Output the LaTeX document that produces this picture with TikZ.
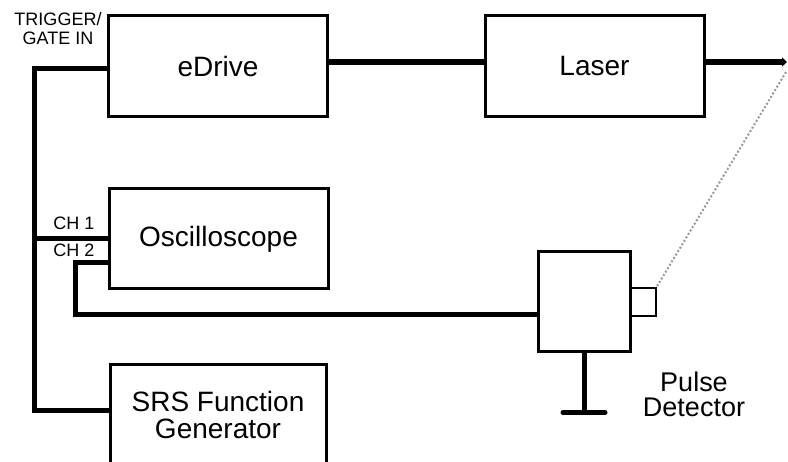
\documentclass[tikz,border=0pt]{standalone}
\usepackage{fontspec}
\setmainfont{Liberation Sans}
\usetikzlibrary{arrows.meta}
\begin{document}
\begin{tikzpicture}[x=1pt,y=-1pt,
  box/.style={draw=black,line width=3pt,rectangle,inner sep=0pt,outer sep=0pt,
    font=\fontsize{28}{27}\selectfont,align=center},
  wire/.style={line width=5pt,black},
  beamwire/.style={line width=6.5pt,black},
  lbl/.style={inner sep=0pt,font=\fontsize{18}{19}\selectfont,align=center}]
\useasboundingbox (0,0) rectangle (788,462);
\clip (0,0) rectangle (788,462);
% boxes
\node[box,minimum width=219pt,minimum height=101pt] (edrive) at (218,66.5) {eDrive};
\node[box,minimum width=219pt,minimum height=101pt] (laser) at (594.5,66.5) {Laser};
\node[box,minimum width=219pt,minimum height=100pt] (osc) at (218.5,239) {Oscilloscope};
\node[box,minimum width=216pt,minimum height=100pt] (srs) at (218,414.5) {SRS Function\\Generator};
\node[box,minimum width=92pt,minimum height=100pt] (pd) at (584,302) {};
\node[box,line width=2.5pt,minimum width=26pt,minimum height=28pt,anchor=west] (win) at (pd.east) {};
% labels
\node[lbl,anchor=base] (trig) at (58,45) {TRIGGER/\\GATE IN};
\node[lbl,anchor=base] (ch1) at (74,230) {CH 1};
\node[lbl,anchor=base] (ch2) at (74,257) {CH 2};
\node[inner sep=0pt,font=\fontsize{27}{25}\selectfont,align=center,anchor=base] (pdl) at (694,417) {Pulse\\Detector};
% coordinates
\coordinate (tl) at (34,68.5);
\coordinate (bl) at (34,410.5);
\coordinate (c1) at (34,239);
\coordinate (c2) at (109,262.5);
\coordinate (c2b) at (75,315);
\coordinate (beam) at (787,62);
\coordinate (gnd) at (584,412.5);
% wires
\draw[wire,line join=miter] (edrive.west |- tl) -- (tl) -- (bl) -- (bl -| srs.west);
\draw[wire] (c1) -- (osc.west |- c1);
\draw[wire,line join=miter] (osc.west |- c2) -| (c2b) -- (c2b -| pd.west);
\draw[beamwire] (edrive.east |- beam) -- (laser.west |- beam);
\draw[beamwire,-{Triangle[length=5pt,width=9pt]}] (laser.east |- beam) -- (beam);
\draw[line width=2pt,gray!80,dotted] (786,72) -- (win.north east);
\draw[wire] (pd.south) -- (gnd);
\draw[wire,line cap=round] ([xshift=-21pt]gnd) -- ([xshift=21pt]gnd);
\end{tikzpicture}
\end{document}
